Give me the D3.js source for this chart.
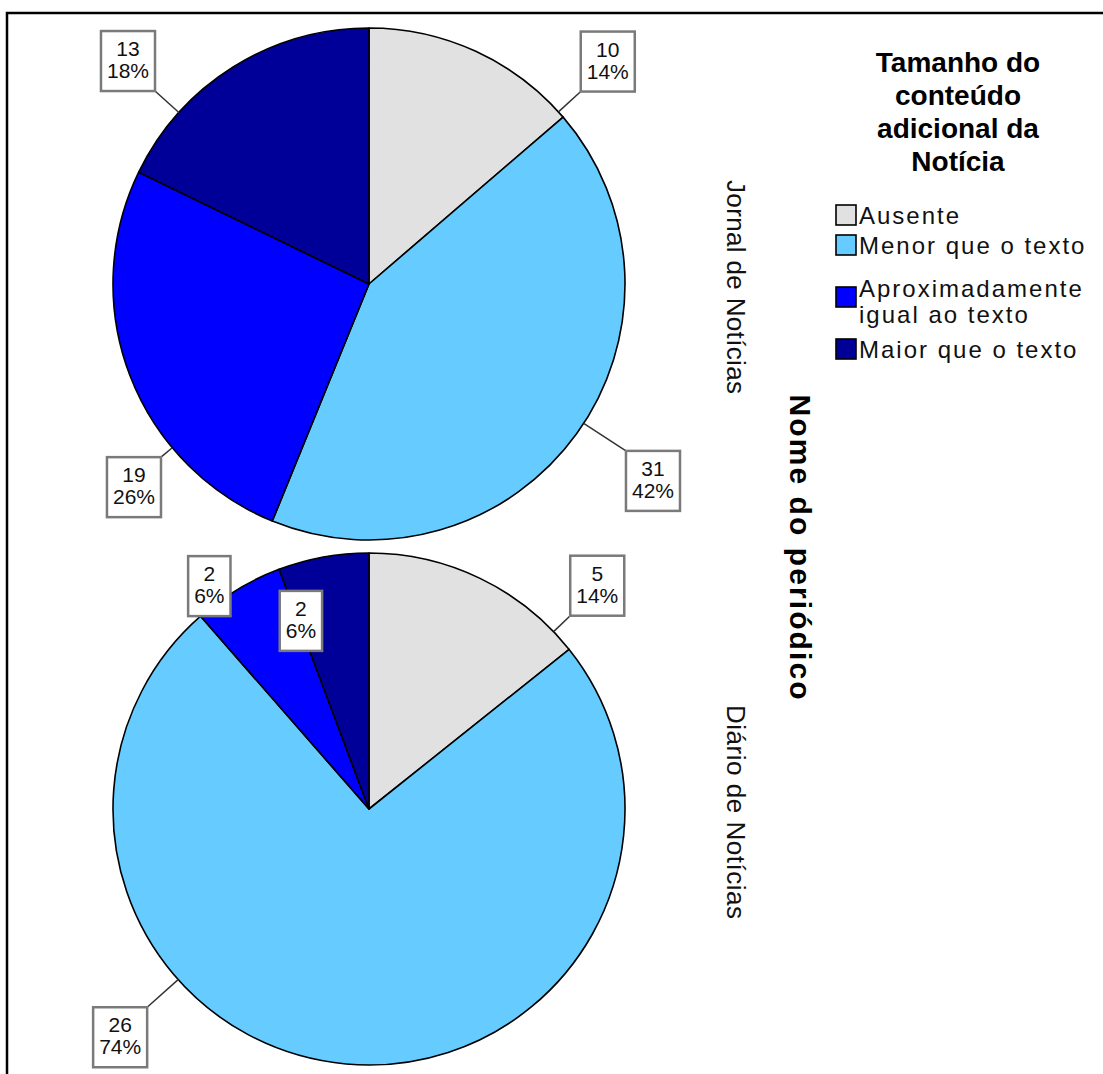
<!DOCTYPE html>
<html><head><meta charset="utf-8">
<script src="https://cdn.jsdelivr.net/npm/d3@7"></script>
<style>body{margin:0;background:#fff}svg{display:block}text{font-family:"Liberation Sans",Arial,sans-serif}</style>
</head><body>
<script>
// ---- data ----
const categories = ["Ausente", "Menor que o texto", "Aproximadamente igual ao texto", "Maior que o texto"];
const legendLines = [["Ausente"], ["Menor que o texto"], ["Aproximadamente", "igual ao texto"], ["Maior que o texto"]];
const colors = ["#E1E1E1", "#66CCFF", "#0000FF", "#000099"];
const panels = ["Jornal de Notícias", "Diário de Notícias"];
const jornalValues = [10, 31, 19, 13];
const diarioValues = [5, 26, 2, 2];
const jornalPct = ["14%", "42%", "26%", "18%"];
const diarioPct = ["14%", "74%", "6%", "6%"];
const legendTitle = ["Tamanho do", "conteúdo", "adicional da", "Notícia"];
const axisTitle = "Nome do periódico";

// label placement (angle in degrees clockwise from top, distance from centre)
const jornalLabelPos = [[46.9, 327], [124.6, 345], [229.3, 310], [312.9, 329]];
const diarioLabelPos = [[45.5, 320], [227.6, 337], [324.5, 275], [340.2, 201]];

const W = 1103, H = 1074;
const svg = d3.select("body").append("svg").attr("width", W).attr("height", H);

// frame
svg.append("path").attr("d", `M7,${H} L7,13 L${W},13`).attr("fill", "none").attr("stroke", "#000").attr("stroke-width", 2.5);

const R = 256;
const cx = 369;
const centres = [284, 809];
const color = d3.scaleOrdinal().domain(categories).range(colors);
const pie = d3.pie().sort(null);
const arc = d3.arc().innerRadius(0).outerRadius(R);

const panelData = [
  {name: panels[0], values: jornalValues, pct: jornalPct, pos: jornalLabelPos},
  {name: panels[1], values: diarioValues, pct: diarioPct, pos: diarioLabelPos}
];

panelData.forEach((p, pi) => {
  const cy = centres[pi];
  const g = svg.append("g").attr("transform", `translate(${cx},${cy})`);
  const arcs = pie(p.values);
  g.selectAll("path.slice").data(arcs).join("path")
    .attr("class", "slice")
    .attr("d", arc)
    .attr("fill", (d, i) => color(categories[i]))
    .attr("stroke", "#000").attr("stroke-width", 1.6).attr("stroke-linejoin", "round");

  // labels
  arcs.forEach((d, i) => {
    const [angDeg, dist] = p.pos[i];
    const a = angDeg * Math.PI / 180;
    const lx = dist * Math.sin(a), ly = -dist * Math.cos(a);
    const lines = [String(p.values[i]), p.pct[i]];
    const lg = g.append("g");
    const t = lg.append("text").attr("text-anchor", "middle").attr("font-size", 21).attr("fill", "#111");
    t.selectAll("tspan").data(lines).join("tspan")
      .attr("x", lx).attr("y", (s, k) => ly - 4 + k * 22)
      .text(s => s);
    const bb = t.node().getBBox();
    const bw = Math.max(bb.width + 12, 34), bh = 60;
    const bx = lx - bw / 2, by = ly - bh / 2 + 1;
    const corners = [[bx, by], [bx + bw, by], [bx, by + bh], [bx + bw, by + bh]];
    let best = corners[0], bd = Infinity;
    corners.forEach(c => { const dd = Math.hypot(c[0], c[1]); if (dd < bd) { bd = dd; best = c; } });
    if (bd > R) {
      const ea = Math.atan2(best[1], best[0]);
      lg.insert("line", "text")
        .attr("x1", best[0]).attr("y1", best[1])
        .attr("x2", R * Math.cos(ea)).attr("y2", R * Math.sin(ea))
        .attr("stroke", "#333").attr("stroke-width", 1.5);
    }
    lg.insert("rect", "text").attr("x", bx).attr("y", by).attr("width", bw).attr("height", bh)
      .attr("fill", "#fff").attr("stroke", "#7a7a7a").attr("stroke-width", 2.5);
  });

  // panel label (rotated)
  svg.append("text")
    .attr("transform", `translate(727,${cy + 3}) rotate(90)`)
    .attr("text-anchor", "middle").attr("font-size", 26).attr("fill", "#111")
    .attr("textLength", 214).attr("lengthAdjust", "spacing")
    .text(p.name);
});

// axis title
svg.append("text")
  .attr("transform", `translate(790,547) rotate(90)`)
  .attr("text-anchor", "middle").attr("font-size", 30).attr("font-weight", "bold").attr("fill", "#000")
  .attr("textLength", 305).attr("lengthAdjust", "spacing")
  .text(axisTitle);

// legend
const lgTitle = svg.append("text").attr("text-anchor", "middle").attr("font-size", 28).attr("font-weight", "bold");
lgTitle.selectAll("tspan").data(legendTitle).join("tspan")
  .attr("x", 958).attr("y", (d, i) => 72 + i * 33).text(d => d);

const rowCentre = [215, 245, 288, 349];
legendLines.forEach((lines, i) => {
  const c = rowCentre[i];
  const sqC = lines.length > 1 ? c + 9 : c;
  svg.append("rect").attr("x", 836).attr("y", sqC - 10).attr("width", 20).attr("height", 20)
    .attr("fill", colors[i]).attr("stroke", "#000").attr("stroke-width", 1.6);
  const t = svg.append("text").attr("font-size", 24).attr("fill", "#111").attr("letter-spacing", 2);
  t.selectAll("tspan").data(lines).join("tspan")
    .attr("x", 859).attr("y", (d, k) => c + 9 + k * 26).text(d => d);
});
</script>
</body></html>
